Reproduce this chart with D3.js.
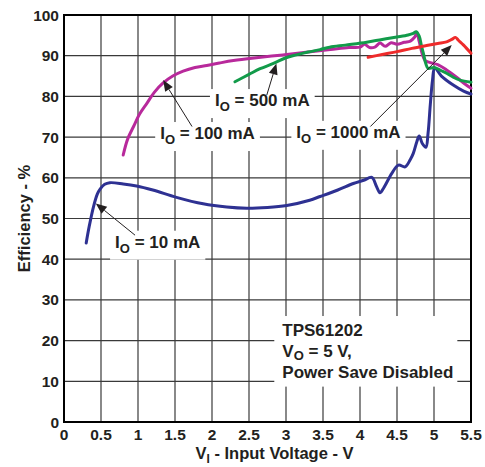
<!DOCTYPE html>
<html lang="en">
<head>
<meta charset="UTF-8">
<title>TPS61202 Efficiency vs Input Voltage</title>
<style>
  body { margin: 0; background: #fff; }
  svg { display: block; font-family: "Liberation Sans", Arial, sans-serif; font-weight: bold; }
  .grid line { stroke: #3a3a3a; stroke-width: 1.2; }
  .tick-label { font-size: 15.5px; fill: #231f20; }
  .title { font-size: 16.5px; fill: #231f20; }
  .note { font-size: 17px; fill: #231f20; }
  .curve { fill: none; stroke-width: 3; stroke-linejoin: round; stroke-linecap: round; }
</style>
</head>
<body>
<div id="chart"></div>
<script src="https://d3js.org/d3.v7.min.js"></script>
<script>
// axis ticks
const xTicks = [0, 0.5, 1, 1.5, 2, 2.5, 3, 3.5, 4, 4.5, 5, 5.5];
const yTicks = [0, 10, 20, 30, 40, 50, 60, 70, 80, 90, 100];

// efficiency curves, [input voltage V, efficiency %]
const io10 = [[0.30,44],[0.34,48],[0.40,53],[0.45,56],[0.49,57.3],[0.55,58.4],[0.62,58.8],[0.8,58.5],
  [0.98,58],[1.2,57],[1.52,55.2],[1.88,53.6],[2.2,52.8],[2.47,52.5],[2.75,52.7],[3.01,53.2],[3.32,54.5],
  [3.46,55.4],[3.7,57],[3.91,58.6],[4.05,59.4],[4.16,60.1],[4.22,58],[4.27,56.3],[4.32,57.5],[4.43,61.1],
  [4.52,63.1],[4.61,62.7],[4.68,64.5],[4.72,66],[4.77,69],[4.80,70.3],[4.84,68.5],[4.89,67.5],[4.92,71],
  [4.95,78],[4.98,84],[5.01,87],[5.1,85],[5.26,82.8],[5.4,81.3],[5.5,80.6]];
const io100 = [[0.80,65.6],[0.86,69.5],[0.94,72.6],[1.02,75.6],[1.12,78.3],[1.22,81],[1.34,83.3],[1.47,85],
  [1.61,86.2],[1.77,87.1],[1.93,87.6],[2.1,88.2],[2.29,88.8],[2.6,89.5],[2.96,90.2],[3.3,90.9],[3.6,91.5],
  [3.85,92],[4.0,92.1],[4.06,92.8],[4.13,92.0],[4.2,92.1],[4.27,93.1],[4.34,92.3],[4.42,93.2],[4.5,92.8],
  [4.6,93.3],[4.68,93.6],[4.74,94.6],[4.77,95.5],[4.8,93.5],[4.84,90.5],[4.88,88.8],[4.95,88.3],[5.05,87.8],
  [5.17,86.5],[5.3,84.8],[5.4,83.3],[5.5,82]];
const io500 = [[2.31,83.6],[2.5,85.4],[2.65,86.8],[2.83,88.1],[3.0,89.5],[3.14,90.2],[3.3,90.9],[3.46,91.5],
  [3.59,92.1],[3.8,92.6],[4.09,93.3],[4.3,94],[4.5,94.6],[4.65,95.1],[4.72,95.5],[4.76,95.9],[4.8,94.8],
  [4.83,92.5],[4.86,90.3],[4.89,88],[4.92,86.9],[5.0,87.1],[5.1,86.3],[5.17,85.7],[5.26,84.7],[5.35,84],[5.5,83.5]];
const io1000 = [[4.11,89.6],[4.3,90.3],[4.5,91],[4.7,91.8],[4.9,92.5],[5.05,93],[5.17,93.4],[5.24,94],
  [5.29,94.5],[5.33,93.8],[5.4,92.6],[5.5,90.6]];

const series = [
  { name: "10", data: io10, color: "#2e3192" },
  { name: "100", data: io100, color: "#b8299b" },
  { name: "500", data: io500, color: "#129b4a" },
  { name: "1000", data: io1000, color: "#ee2b2b" }
];

// annotation labels: text anchor (x, y) and arrow from (ax, ay) to (tx, ty), all in data units
const callouts = [
  { cur: "100 mA", x: 1.30, y: 71.0, ax: 1.73, ay: 72.6, tx: 1.34, ty: 84.0 },
  { cur: "500 mA", x: 2.04, y: 79.1, ax: 2.74, ay: 80.3, tx: 2.87, ty: 88.1 },
  { cur: "1000 mA", x: 3.14, y: 71.3, ax: 4.14, ay: 72.6, tx: 5.24, ty: 92.6 },
  { cur: "10 mA", x: 0.69, y: 44.3, ax: 0.96, ay: 45.9, tx: 0.43, ty: 53.7 }
];
const conditions = ["TPS61202", "V|O| = 5 V,", "Power Save Disabled"];

const width = 485, height = 467;
const margin = { top: 15, right: 14, bottom: 45, left: 64 };

const svg = d3.select("#chart").append("svg")
  .attr("width", width).attr("height", height);

const x = d3.scaleLinear().domain([0, 5.5]).range([margin.left, width - margin.right]);
const y = d3.scaleLinear().domain([0, 100]).range([height - margin.bottom, margin.top]);

// grid
const grid = svg.append("g").attr("class", "grid");
grid.selectAll(".v").data(xTicks.slice(1, -1)).enter().append("line")
  .attr("x1", d => x(d)).attr("x2", d => x(d))
  .attr("y1", y(0)).attr("y2", y(100));
grid.selectAll(".h").data(yTicks.slice(1, -1)).enter().append("line")
  .attr("x1", x(0)).attr("x2", x(5.5))
  .attr("y1", d => y(d)).attr("y2", d => y(d));

// tick labels
svg.append("g").selectAll("text").data(xTicks).enter().append("text")
  .attr("class", "tick-label")
  .attr("x", d => x(d)).attr("y", y(0) + 18)
  .attr("text-anchor", "middle")
  .text(d => d);
svg.append("g").selectAll("text").data(yTicks).enter().append("text")
  .attr("class", "tick-label")
  .attr("x", x(0) - 5).attr("y", d => y(d) + 5.5)
  .attr("text-anchor", "end")
  .text(d => d);

// axis titles
const xt = svg.append("text").attr("class", "title")
  .attr("x", (x(0) + x(5.5)) / 2 + 7).attr("y", height - 8)
  .attr("text-anchor", "middle");
xt.append("tspan").text("V");
xt.append("tspan").attr("dy", 4).attr("font-size", 12).text("I");
xt.append("tspan").attr("dy", -4).text(" - Input Voltage - V");

svg.append("text").attr("class", "title")
  .attr("transform", `translate(30,${(y(0) + y(100)) / 2}) rotate(-90)`)
  .attr("text-anchor", "middle")
  .text("Efficiency - %");

// labels with white boxes that cut the grid
function addLabel(g, px, py, parts, subShift) {
  const shift = subShift || 5;
  const t = g.append("text").attr("class", "note").attr("x", px).attr("y", py + 6);
  parts.forEach(p => {
    if (p.sub) {
      t.append("tspan").attr("dy", shift).attr("font-size", 13).text(p.sub);
      t.append("tspan").attr("dy", -shift).text(p.text);
    } else {
      t.append("tspan").text(p.text);
    }
  });
  return t;
}

const notes = svg.append("g");
callouts.forEach(c => {
  const t = addLabel(notes, x(c.x), y(c.y), [{ text: "I" }, { sub: "O", text: " = " + c.cur }]);
  const b = t.node().getBBox();
  notes.insert("rect", "text")
    .attr("x", b.x - 5).attr("y", b.y - 2)
    .attr("width", b.width + 10).attr("height", b.height + 6)
    .attr("fill", "#fff");
});

// condition block
const condBox = svg.append("g");
const condX = x(2.95);
conditions.forEach((line, i) => {
  const py = y(22.6) + i * 20.8;
  const bits = line.split("|");
  if (bits.length === 3) {
    addLabel(condBox, condX, py, [{ text: bits[0] }, { sub: bits[1], text: bits[2] }], 3.5);
  } else {
    addLabel(condBox, condX, py, [{ text: line }]);
  }
});
const cb = condBox.node().getBBox();
condBox.insert("rect", "text")
  .attr("x", cb.x - 8).attr("y", cb.y - 5)
  .attr("width", cb.width + 12).attr("height", cb.height + 10)
  .attr("fill", "#fff");

// frame
svg.append("rect")
  .attr("x", x(0)).attr("y", y(100))
  .attr("width", x(5.5) - x(0)).attr("height", y(0) - y(100))
  .attr("fill", "none").attr("stroke", "#000").attr("stroke-width", 2);

// curves
const line = d3.line().x(d => x(d[0])).y(d => y(d[1])).curve(d3.curveCatmullRom.alpha(0.5));
svg.append("g").selectAll("path").data(series).enter().append("path")
  .attr("class", "curve")
  .attr("stroke", d => d.color)
  .attr("d", d => line(d.data));

// arrows
const arrows = svg.append("g");
callouts.forEach(c => {
  const x1 = x(c.ax), y1 = y(c.ay), x2 = x(c.tx), y2 = y(c.ty);
  const ang = Math.atan2(y2 - y1, x2 - x1);
  const len = 11, half = 4.5;
  const bx = x2 - len * Math.cos(ang), by = y2 - len * Math.sin(ang);
  arrows.append("line")
    .attr("x1", x1).attr("y1", y1).attr("x2", bx).attr("y2", by)
    .attr("stroke", "#231f20").attr("stroke-width", 1);
  const pts = [
    [x2, y2],
    [bx + half * Math.sin(ang), by - half * Math.cos(ang)],
    [bx - half * Math.sin(ang), by + half * Math.cos(ang)]
  ];
  arrows.append("path").attr("d", "M" + pts.join("L") + "Z").attr("fill", "#231f20");
});
</script>
</body>
</html>
